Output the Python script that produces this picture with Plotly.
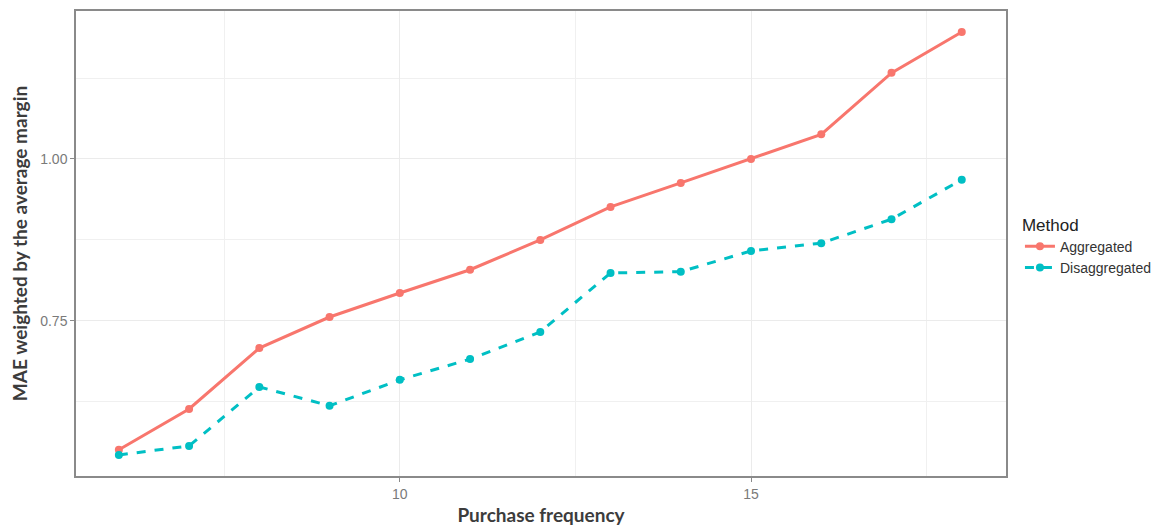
import plotly.graph_objects as go

purchase_frequency = [6, 7, 8, 9, 10, 11, 12, 13, 14, 15, 16, 17, 18]
aggregated = [0.551, 0.614, 0.708, 0.756, 0.793, 0.829, 0.875, 0.926, 0.963, 1.000, 1.038, 1.133, 1.196]
disaggregated = [0.543, 0.557, 0.648, 0.619, 0.659, 0.691, 0.733, 0.824, 0.826, 0.858, 0.870, 0.907, 0.968]

x_ticks = [10, 15]
x_tick_labels = ["10", "15"]
y_ticks = [0.75, 1.00]
y_tick_labels = ["0.75", "1.00"]

RED = "#F8766D"
TEAL = "#00BFC4"

fig = go.Figure()
fig.add_trace(go.Scatter(
    x=purchase_frequency, y=aggregated, name="Aggregated",
    mode="lines+markers",
    line=dict(color=RED, width=3),
    marker=dict(color=RED, size=8),
))
fig.add_trace(go.Scatter(
    x=purchase_frequency, y=disaggregated, name="Disaggregated",
    mode="lines+markers",
    line=dict(color=TEAL, width=3, dash="dash"),
    marker=dict(color=TEAL, size=8),
))

axis_common = dict(
    showline=True, mirror=True, linecolor="#8a8a8a", linewidth=1.5,
    showgrid=True, gridcolor="#ebebeb", gridwidth=1,
    zeroline=False, automargin=False,
    ticks="outside", ticklen=4, tickcolor="#8a8a8a", tickwidth=1,
    tickfont=dict(family="Liberation Sans, Arial, sans-serif", size=14, color="#7a7a7a"),
)

fig.update_xaxes(
    range=[5.39, 18.63],
    tickvals=x_ticks, ticktext=x_tick_labels,
    minor=dict(tickvals=[7.5, 12.5, 17.5], showgrid=True, gridcolor="#f0f0f0", gridwidth=1, ticks=""),
    title=dict(text="<b>Purchase frequency</b>", standoff=8,
               font=dict(family="Lato, Open Sans, sans-serif", size=19, color="#3c3c3c")),
    **axis_common,
)
fig.update_yaxes(
    range=[0.5105, 1.2285],
    tickvals=y_ticks, ticktext=y_tick_labels,
    minor=dict(tickvals=[0.625, 0.875, 1.125], showgrid=True, gridcolor="#f0f0f0", gridwidth=1, ticks=""),
    title=dict(text="<b>MAE weighted by the average margin</b>", standoff=10,
               font=dict(family="Lato, Open Sans, sans-serif", size=19, color="#3c3c3c")),
    **axis_common,
)

fig.update_layout(
    width=1152, height=520,
    margin=dict(l=68, r=142, t=3, b=52),
    paper_bgcolor="white", plot_bgcolor="white",
    showlegend=True,
    legend=dict(
        x=1.015, y=0.575, xanchor="left", yanchor="top",
        title=dict(text="Method", font=dict(family="Liberation Sans, Arial, sans-serif", size=17, color="#222")),
        font=dict(family="Liberation Sans, Arial, sans-serif", size=14, color="#333"),
        tracegroupgap=0, itemwidth=30,
        bgcolor="rgba(0,0,0,0)",
    ),
)

fig.write_html("out.html")
